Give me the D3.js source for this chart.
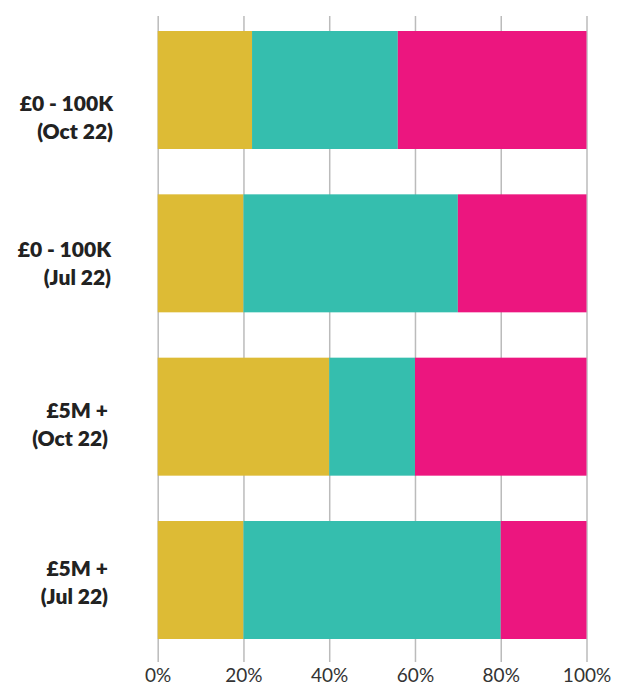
<!DOCTYPE html>
<html>
<head>
<meta charset="utf-8">
<script src="https://cdn.jsdelivr.net/npm/d3@7"></script>
<style>
  html, body { margin: 0; padding: 0; background: #fff; }
  svg { display: block; }
  .tick text { font-family: Lato, "Open Sans", sans-serif; }
</style>
</head>
<body>
<svg id="chart" width="627" height="686"></svg>
<script>
// Categories (two-line labels) and the three stacked shares (percent)
const categories = [
  "£0 - 100K\n(Oct 22)",
  "£0 - 100K\n(Jul 22)",
  "£5M +\n(Oct 22)",
  "£5M +\n(Jul 22)"
];
const seriesKeys = ["first", "second", "third"];
const firstValues  = [22, 20, 40, 20];
const secondValues = [34, 50, 20, 60];
const thirdValues  = [44, 30, 40, 20];
const tickValues = [0, 20, 40, 60, 80, 100];
const tickLabels = ["0%", "20%", "40%", "60%", "80%", "100%"];

const colors = { first: "#DDBB35", second: "#35BEAE", third: "#EC167F" };

// Label placement tweaks (right edge and vertical shift per category)
const labelRight = [113, 111, 108, 108];
const labelShift = [28, 10, 8, 3];

const rows = categories.map((c, i) => ({
  category: c,
  first: firstValues[i],
  second: secondValues[i],
  third: thirdValues[i]
}));

const svg = d3.select("#chart");

const x = d3.scaleLinear().domain([0, 100]).range([157.7, 586.5]);
const y = d3.scaleBand().domain(categories).range([31, 639])
  .paddingInner(0.2776).paddingOuter(0);

const gridTop = 16, axisY = 662;

// Axis with full-height gridlines
const axis = d3.axisBottom(x)
  .tickValues(tickValues)
  .tickFormat((d, i) => tickLabels[i])
  .tickSize(-(axisY - gridTop))
  .tickPadding(7);

const gAxis = svg.append("g")
  .attr("transform", `translate(0,${axisY})`)
  .call(axis);
gAxis.select(".domain").remove();
gAxis.selectAll(".tick line").attr("stroke", "#bbbbbb").attr("stroke-width", 1.5);
gAxis.selectAll(".tick text")
  .attr("fill", "#333")
  .style("font-size", "19px");

// Stacked bars
const stack = d3.stack().keys(seriesKeys);
const layers = stack(rows);

svg.append("g").selectAll("g")
  .data(layers)
  .join("g")
  .attr("fill", d => colors[d.key])
  .selectAll("rect")
  .data(d => d)
  .join("rect")
  .attr("x", d => x(d[0]))
  .attr("width", d => x(d[1]) - x(d[0]))
  .attr("y", d => y(d.data.category))
  .attr("height", y.bandwidth());

// Category labels
const labels = svg.append("g")
  .style("font-family", "Lato, 'Open Sans', sans-serif")
  .style("font-weight", "800")
  .style("font-size", "21px")
  .attr("fill", "#222")
  .attr("text-anchor", "end");

categories.forEach((c, i) => {
  const lines = c.split("\n");
  const cy = y(c) + y.bandwidth() / 2 + labelShift[i];
  const lineH = 28;
  const t = labels.append("text");
  lines.forEach((ln, j) => {
    t.append("tspan")
      .attr("x", labelRight[i])
      .attr("y", cy + (j - (lines.length - 1) / 2) * lineH)
      .attr("dy", "0.35em")
      .text(ln);
  });
});
</script>
</body>
</html>
